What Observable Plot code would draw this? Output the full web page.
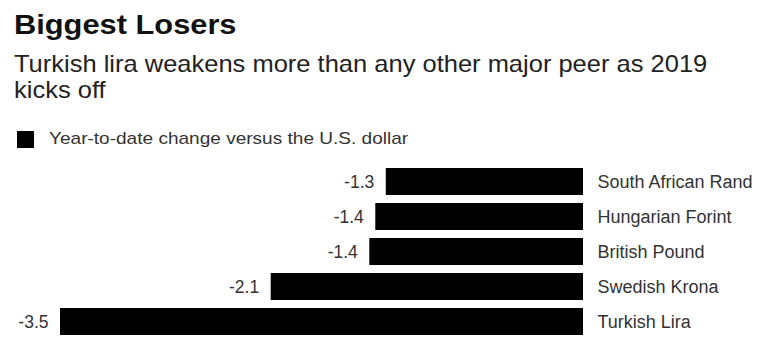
<!DOCTYPE html>
<html>
<head>
<meta charset="utf-8">
<script src="https://cdn.jsdelivr.net/npm/d3@7"></script>
<script src="https://cdn.jsdelivr.net/npm/@observablehq/plot@0.6"></script>
<style>
  html, body { margin: 0; padding: 0; background: #fff; }
  body { width: 768px; height: 362px; position: relative; overflow: hidden; font-family: "Liberation Sans", Arial, sans-serif; }
  #title { position: absolute; left: 14px; top: 8px; font-size: 28px; font-weight: 700; color: #111; line-height: 34px; white-space: nowrap; transform: scaleX(1.1); transform-origin: 0 0; }
  #subtitle { position: absolute; left: 14px; top: 51px; width: 690px; font-size: 24px; color: #222; line-height: 26px; transform: scaleX(1.062); transform-origin: 0 0; }
  #legend { position: absolute; left: 17px; top: 129px; font-size: 17px; color: #333; line-height: 20px; white-space: nowrap; display: flex; align-items: center; }
  #legend .sw { width: 17px; height: 17px; background: #000; margin-right: 15px; }
  #legend .lt { display: inline-block; transform: scaleX(1.12); transform-origin: 0 50%; }
  #chart { position: absolute; left: 0; top: 150px; }
</style>
</head>
<body>
<div id="title">Biggest Losers</div>
<div id="subtitle">Turkish lira weakens more than any other major peer as 2019 kicks off</div>
<div id="legend"><span class="sw"></span><span class="lt">Year-to-date change versus the U.S. dollar</span></div>
<div id="chart"></div>
<script>
const currencies = ["South African Rand", "Hungarian Forint", "British Pound", "Swedish Krona", "Turkish Lira"];
const changes = [-1.32, -1.39, -1.43, -2.09, -3.5];
const valueLabels = ["-1.3", "-1.4", "-1.4", "-2.1", "-3.5"];

const data = currencies.map((c, i) => ({currency: c, change: changes[i], label: valueLabels[i]}));

const chart = Plot.plot({
  width: 768,
  height: 212,
  marginLeft: 60,
  marginRight: 185,
  marginTop: 14,
  marginBottom: 23,
  style: {fontFamily: "'Liberation Sans', Arial, sans-serif", background: "#fff"},
  x: {domain: [-3.5, 0], axis: null},
  y: {domain: currencies, axis: null, paddingInner: 0.2286, paddingOuter: 0.1143},
  marks: [
    Plot.barX(data, {x1: 0, x2: "change", y: "currency", fill: "#000"}),
    Plot.text(data, {x: "change", y: "currency", text: "label", textAnchor: "end", dx: -12, fontSize: 17.5, fill: "#333"}),
    Plot.text(data, {x: 0, y: "currency", text: "currency", textAnchor: "start", dx: 14, fontSize: 18, fill: "#333"})
  ]
});
document.getElementById("chart").appendChild(chart);
</script>
</body>
</html>
